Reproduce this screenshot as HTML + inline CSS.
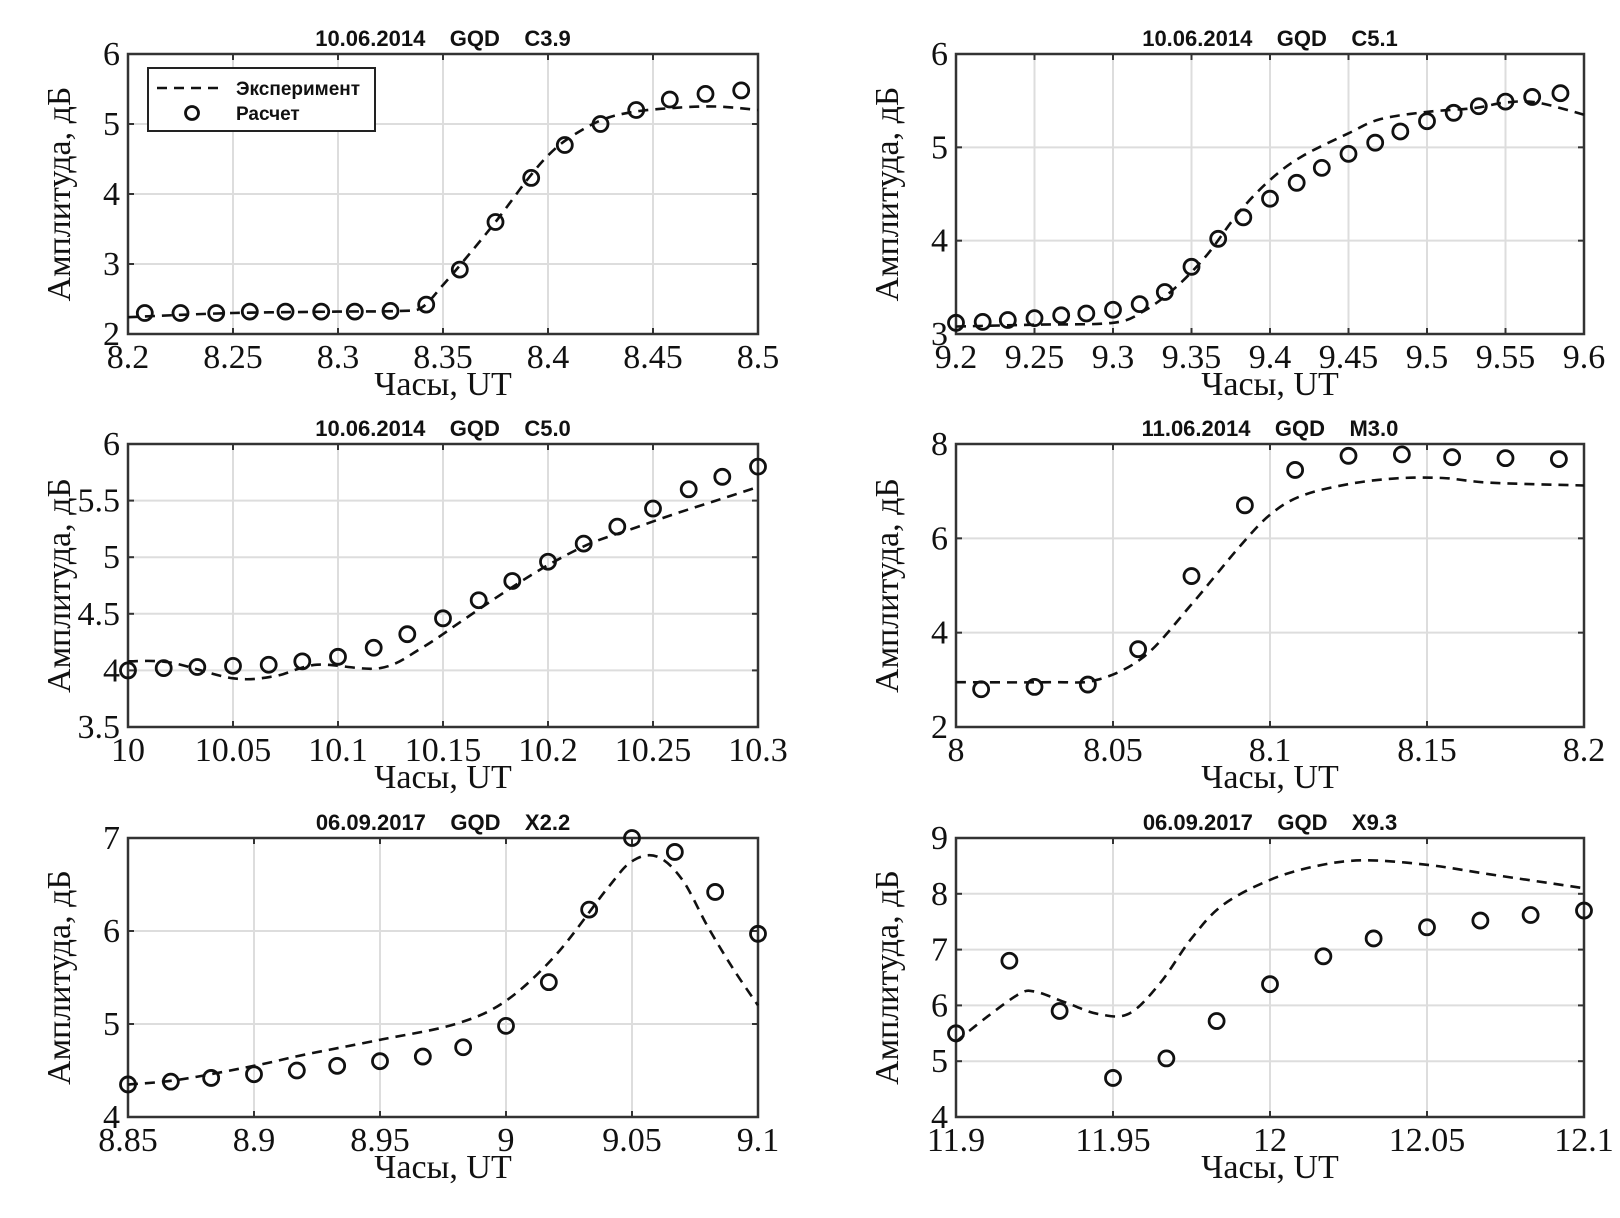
<!DOCTYPE html>
<html><head><meta charset="utf-8"><style>
html,body{margin:0;padding:0;background:#fff;}
svg{display:block;}
.tk{font-family:"Liberation Serif",serif;font-size:34px;fill:#111;}
.ttl{font-family:"Liberation Sans",sans-serif;font-weight:bold;font-size:22px;fill:#111;white-space:pre;}
.lg{font-family:"Liberation Sans",sans-serif;font-weight:bold;font-size:19px;fill:#111;}
</style></head><body>
<svg id="fig" width="1620" height="1218" viewBox="0 0 1620 1218" xmlns="http://www.w3.org/2000/svg"></svg>
<script>
const NS="http://www.w3.org/2000/svg";
// Panel 1
const p1Title="10.06.2014    GQD    C3.9";
const p1XTicks=[8.2,8.25,8.3,8.35,8.4,8.45,8.5];
const p1YTicks=[2,3,4,5,6];
const p1CalcX=[8.208,8.225,8.242,8.258,8.275,8.292,8.308,8.325,8.342,8.358,8.375,8.392,8.408,8.425,8.442,8.458,8.475,8.492];
const p1CalcY=[2.3,2.3,2.3,2.32,2.32,2.32,2.32,2.33,2.42,2.92,3.6,4.23,4.7,5.0,5.2,5.35,5.43,5.48];
const p1ExpX=[8.2,8.25,8.3,8.33,8.34,8.35,8.36,8.375,8.39,8.4,8.41,8.425,8.44,8.46,8.48,8.5];
const p1ExpY=[2.24,2.3,2.32,2.33,2.38,2.7,3.05,3.6,4.2,4.55,4.8,5.05,5.17,5.23,5.25,5.2];
// Panel 2
const p2Title="10.06.2014    GQD    C5.1";
const p2XTicks=[9.2,9.25,9.3,9.35,9.4,9.45,9.5,9.55,9.6];
const p2YTicks=[3,4,5,6];
const p2CalcX=[9.2,9.217,9.233,9.25,9.267,9.283,9.3,9.317,9.333,9.35,9.367,9.383,9.4,9.417,9.433,9.45,9.467,9.483,9.5,9.517,9.533,9.55,9.567,9.585];
const p2CalcY=[3.12,3.13,3.15,3.17,3.2,3.22,3.26,3.32,3.45,3.72,4.02,4.25,4.45,4.62,4.78,4.93,5.05,5.17,5.28,5.37,5.44,5.49,5.54,5.58];
const p2ExpX=[9.2,9.25,9.3,9.32,9.34,9.36,9.38,9.4,9.42,9.45,9.47,9.5,9.53,9.55,9.57,9.6];
const p2ExpY=[3.08,3.1,3.12,3.25,3.5,3.85,4.3,4.65,4.9,5.15,5.3,5.38,5.42,5.48,5.48,5.35];
// Panel 3
const p3Title="10.06.2014    GQD    C5.0";
const p3XTicks=[10,10.05,10.1,10.15,10.2,10.25,10.3];
const p3YTicks=[3.5,4,4.5,5,5.5,6];
const p3CalcX=[10,10.017,10.033,10.05,10.067,10.083,10.1,10.117,10.133,10.15,10.167,10.183,10.2,10.217,10.233,10.25,10.267,10.283,10.3];
const p3CalcY=[4.0,4.02,4.03,4.04,4.05,4.08,4.12,4.2,4.32,4.46,4.62,4.79,4.96,5.12,5.27,5.43,5.6,5.71,5.8];
const p3ExpX=[10,10.02,10.05,10.07,10.09,10.12,10.14,10.16,10.18,10.2,10.22,10.24,10.26,10.28,10.3];
const p3ExpY=[4.08,4.07,3.93,3.95,4.05,4.02,4.2,4.45,4.7,4.93,5.12,5.25,5.38,5.5,5.62];
// Panel 4
const p4Title="11.06.2014    GQD    M3.0";
const p4XTicks=[8,8.05,8.1,8.15,8.2];
const p4YTicks=[2,4,6,8];
const p4CalcX=[8.008,8.025,8.042,8.058,8.075,8.092,8.108,8.125,8.142,8.158,8.175,8.192];
const p4CalcY=[2.8,2.85,2.9,3.65,5.2,6.7,7.45,7.75,7.78,7.72,7.7,7.68];
const p4ExpX=[8,8.03,8.045,8.06,8.075,8.09,8.1,8.11,8.125,8.14,8.155,8.17,8.2];
const p4ExpY=[2.95,2.95,3.0,3.5,4.6,5.8,6.5,6.9,7.15,7.27,7.28,7.18,7.12];
// Panel 5
const p5Title="06.09.2017    GQD    X2.2";
const p5XTicks=[8.85,8.9,8.95,9,9.05,9.1];
const p5YTicks=[4,5,6,7];
const p5CalcX=[8.85,8.867,8.883,8.9,8.917,8.933,8.95,8.967,8.983,9.0,9.017,9.033,9.05,9.067,9.083,9.1];
const p5CalcY=[4.35,4.38,4.42,4.46,4.5,4.55,4.6,4.65,4.75,4.98,5.45,6.23,7.0,6.85,6.42,5.97];
const p5ExpX=[8.85,8.87,8.9,8.92,8.95,8.98,9.0,9.02,9.04,9.05,9.06,9.07,9.08,9.09,9.1];
const p5ExpY=[4.35,4.4,4.55,4.67,4.83,5.0,5.25,5.75,6.45,6.75,6.8,6.55,6.05,5.6,5.2];
// Panel 6
const p6Title="06.09.2017    GQD    X9.3";
const p6XTicks=[11.9,11.95,12,12.05,12.1];
const p6YTicks=[4,5,6,7,8,9];
const p6CalcX=[11.9,11.917,11.933,11.95,11.967,11.983,12.0,12.017,12.033,12.05,12.067,12.083,12.1];
const p6CalcY=[5.5,6.8,5.9,4.7,5.05,5.72,6.38,6.88,7.2,7.4,7.52,7.62,7.7];
const p6ExpX=[11.9,11.91,11.92,11.925,11.935,11.945,11.955,11.965,11.975,11.985,12.0,12.015,12.03,12.05,12.07,12.1];
const p6ExpY=[5.35,5.8,6.2,6.25,6.05,5.85,5.85,6.4,7.2,7.8,8.25,8.5,8.6,8.52,8.35,8.1];

const svg=document.getElementById('fig');
function mk(tag,attrs,parent){const e=document.createElementNS(NS,tag);for(const k in attrs)e.setAttribute(k,attrs[k]);(parent||svg).appendChild(e);return e;}
function fmt(v){return String(+v.toFixed(3));}
function smooth(P){
  let d='M'+P[0][0].toFixed(1)+','+P[0][1].toFixed(1);
  for(let i=0;i<P.length-1;i++){
    const p0=P[i-1]||P[i],p1=P[i],p2=P[i+1],p3=P[i+2]||P[i+1];
    const c1=[p1[0]+(p2[0]-p0[0])/6,p1[1]+(p2[1]-p0[1])/6];
    const c2=[p2[0]-(p3[0]-p1[0])/6,p2[1]-(p3[1]-p1[1])/6];
    d+=' C'+c1.map(v=>v.toFixed(1)).join(',')+' '+c2.map(v=>v.toFixed(1)).join(',')+' '+p2.map(v=>v.toFixed(1)).join(',');
  }
  return d;
}

function panel(id,box,title,xt,yt,cx,cy,ex,ey,legend){
  const g=mk('g',{});
  
  
  const [L,T,R,B]=box;
  const x0=xt[0],x1=xt[xt.length-1],y0=yt[0],y1=yt[yt.length-1];
  const sx=v=>L+(v-x0)/(x1-x0)*(R-L);
  const sy=v=>B-(v-y0)/(y1-y0)*(B-T);
  const bg=mk('rect',{x:L,y:T,width:R-L,height:B-T,fill:'#fff'},g);
  
  
  xt.forEach(v=>{
    const x=sx(v);
    const gl=mk('line',{x1:x,y1:T,x2:x,y2:B,stroke:'#ddd','stroke-width':2},g);
    
    
    mk('line',{x1:x,y1:B,x2:x,y2:B-6,stroke:'#333','stroke-width':2},g);
    mk('line',{x1:x,y1:T,x2:x,y2:T+6,stroke:'#333','stroke-width':2},g);
    const t=mk('text',{x:x,y:B+34,'text-anchor':'middle',class:'tk'},g);
    t.textContent=fmt(v);
    
    
  });
  yt.forEach(v=>{
    const y=sy(v);
    const gl=mk('line',{x1:L,y1:y,x2:R,y2:y,stroke:'#ddd','stroke-width':2},g);
    
    
    mk('line',{x1:L,y1:y,x2:L+6,y2:y,stroke:'#333','stroke-width':2},g);
    mk('line',{x1:R,y1:y,x2:R-6,y2:y,stroke:'#333','stroke-width':2},g);
    const t=mk('text',{x:L-8,y:y+11,'text-anchor':'end',class:'tk'},g);
    t.textContent=fmt(v);
    
    
  });
  const fr=mk('rect',{x:L,y:T,width:R-L,height:B-T,fill:'none',stroke:'#333','stroke-width':2.5},g);
  
  
  const pts=ex.map((v,i)=>[sx(v),sy(ey[i])]);
  const ln=mk('path',{d:smooth(pts),fill:'none',stroke:'#111','stroke-width':2.6,'stroke-dasharray':'10,7','stroke-linejoin':'round'},g);
  
  
  cx.forEach((v,i)=>{
    const c=mk('circle',{cx:sx(v),cy:sy(cy[i]),r:7.5,fill:'none',stroke:'#111','stroke-width':2.8},g);
    
    
  });
  const tt=mk('text',{x:(L+R)/2,y:T-8,'text-anchor':'middle',class:'ttl'},g);
  tt.textContent=title;
  
  
  const xl=mk('text',{x:(L+R)/2,y:B+61,'text-anchor':'middle',class:'tk'},g);
  xl.textContent='Часы, UT';
  
  
  const yc=(T+B)/2, yx=L-58;
  const yl=mk('text',{x:yx,y:yc,'text-anchor':'middle',class:'tk',transform:'rotate(-90 '+yx+' '+yc+')'},g);
  yl.textContent='Амплитуда, дБ';
  
  
  if(legend){
    const lg=mk('g',{},g);
    
    
    mk('rect',{x:148,y:68,width:227,height:63,fill:'#fff',stroke:'#222','stroke-width':2},lg);
    mk('line',{x1:157,y1:88,x2:220,y2:88,stroke:'#111','stroke-width':2.6,'stroke-dasharray':'10,7'},lg);
    const a=mk('text',{x:236,y:95,class:'lg'},lg);a.textContent='Эксперимент';
    
    
    mk('circle',{cx:192,cy:113,r:6.5,fill:'none',stroke:'#111','stroke-width':2.8},lg);
    const b=mk('text',{x:236,y:120,class:'lg'},lg);b.textContent='Расчет';
    
    
  }
}
const LX=[128,758], RX=[956,1584];
const R1=[54,334], R2=[444,727], R3=[838,1117];
panel('panel-c39',[LX[0],R1[0],LX[1],R1[1]],p1Title,p1XTicks,p1YTicks,p1CalcX,p1CalcY,p1ExpX,p1ExpY,true);
panel('panel-c51',[RX[0],R1[0],RX[1],R1[1]],p2Title,p2XTicks,p2YTicks,p2CalcX,p2CalcY,p2ExpX,p2ExpY,false);
panel('panel-c50',[LX[0],R2[0],LX[1],R2[1]],p3Title,p3XTicks,p3YTicks,p3CalcX,p3CalcY,p3ExpX,p3ExpY,false);
panel('panel-m30',[RX[0],R2[0],RX[1],R2[1]],p4Title,p4XTicks,p4YTicks,p4CalcX,p4CalcY,p4ExpX,p4ExpY,false);
panel('panel-x22',[LX[0],R3[0],LX[1],R3[1]],p5Title,p5XTicks,p5YTicks,p5CalcX,p5CalcY,p5ExpX,p5ExpY,false);
panel('panel-x93',[RX[0],R3[0],RX[1],R3[1]],p6Title,p6XTicks,p6YTicks,p6CalcX,p6CalcY,p6ExpX,p6ExpY,false);
</script>
</body></html>
